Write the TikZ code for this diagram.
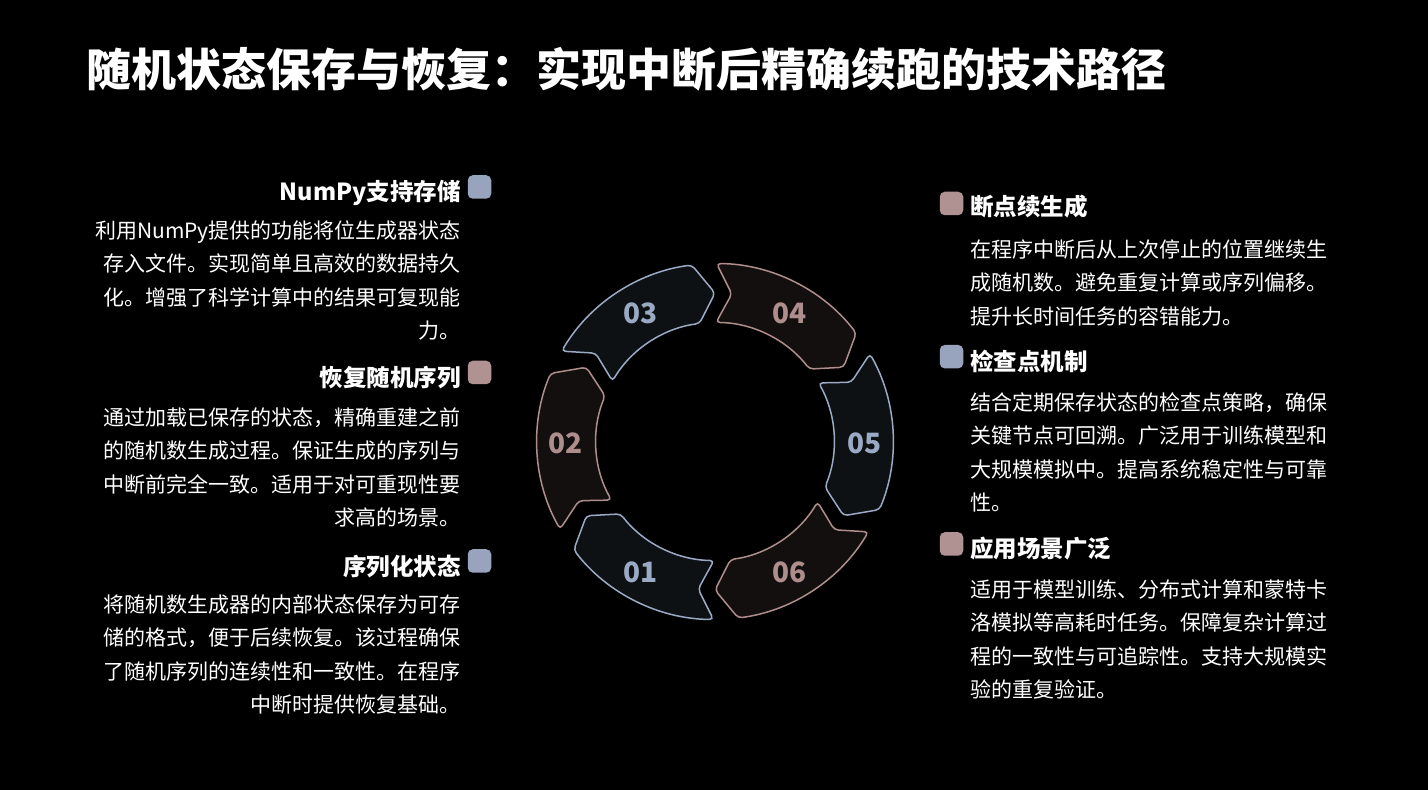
\documentclass[tikz,border=0pt]{standalone}
\usepackage{fontspec}
\setmainfont{Noto Sans CJK SC}
\usepackage{xcolor}
\usepackage{tikz}
\usetikzlibrary{positioning}
\definecolor{ringblue}{HTML}{9BAAC4}
\definecolor{ringpink}{HTML}{AE8E8C}
\definecolor{fillblue}{HTML}{0E1114}
\definecolor{fillpink}{HTML}{140F0F}
\definecolor{markblue}{HTML}{98A4BE}
\definecolor{markpink}{HTML}{B09292}

\tikzset{
  bluearc/.style={draw=ringblue, fill=fillblue, line width=1.5pt, rounded corners=4pt},
  pinkarc/.style={draw=ringpink, fill=fillpink, line width=1.5pt, rounded corners=4pt},
  numlbl/.style={font=\fontsize{28}{30}\selectfont\bfseries, inner sep=0pt},
  marker/.style={minimum size=23.5pt, inner sep=0pt, rounded corners=5pt},
  headtxt/.style={font=\fontsize{23.5}{26}\selectfont\bfseries, text=white, inner sep=0pt},
  bodyL/.style={font=\fontsize{21}{33.3}\selectfont, text=white, align=right, inner sep=0pt, anchor=north east},
  bodyR/.style={font=\fontsize{21}{33.3}\selectfont, text=white, align=left, inner sep=0pt, anchor=north west}
}

\begin{document}
\begin{tikzpicture}[x=1pt, y=1pt]
\fill[black] (0,0) rectangle (1428,790);
\useasboundingbox (0,0) rectangle (1428,790);

% title
\node[anchor=base west, inner sep=0pt, text=white, font=\fontsize{45}{50}\selectfont\bfseries] (title) at (86,703)
  {随机状态保存与恢复：实现中断后精确续跑的技术路径};

% ring of six arrows
\begin{scope}[shift={(715,348.5)}]
\foreach \ang/\lbl/\kind/\col in {240/01/bluearc/ringblue, 180/02/pinkarc/ringpink, 120/03/bluearc/ringblue,
                                   60/04/pinkarc/ringpink, 0/05/bluearc/ringblue, -60/06/pinkarc/ringpink}{
  \draw[\kind] (\ang+29.5:178) arc[start angle=\ang+29.5, end angle=\ang-22.5, radius=178pt]
    -- (\ang-30:148.5) -- (\ang-22.5:119)
    arc[start angle=\ang-22.5, end angle=\ang+29.5, radius=119pt]
    -- (\ang+23.5:148.5) -- cycle;
  \node[numlbl, text=\col] (seg\lbl) at ([yshift=-1.5pt]\ang:149.5) {\lbl};
}
\end{scope}

% left column
\node[headtxt, anchor=base east] (hL1) at (461,589.3) {NumPy支持存储};
\node[marker, fill=markblue] (mkL1) at (479.5,603) {};
\node[bodyL] (bL1) at (461,569.5) {利用NumPy提供的功能将位生成器状态\\存入文件。实现简单且高效的数据持久\\化。增强了科学计算中的结果可复现能\\力。};

\node[headtxt, anchor=base east] (hL2) at (461,403) {恢复随机序列};
\node[marker, fill=markpink] (mkL2) at (479.5,417.5) {};
\node[bodyL] (bL2) at (461,382.5) {通过加载已保存的状态，精确重建之前\\的随机数生成过程。保证生成的序列与\\中断前完全一致。适用于对可重现性要\\求高的场景。};

\node[headtxt, anchor=base east] (hL3) at (461,214.3) {序列化状态};
\node[marker, fill=markblue] (mkL3) at (479.5,229) {};
\node[bodyL] (bL3) at (461,195.5) {将随机数生成器的内部状态保存为可存\\储的格式，便于后续恢复。该过程确保\\了随机序列的连续性和一致性。在程序\\中断时提供恢复基础。};

% right column
\node[headtxt, anchor=base west] (hR1) at (970,574.3) {断点续生成};
\node[marker, fill=markpink] (mkR1) at (951.5,586.5) {};
\node[bodyR] (bR1) at (970,550.5) {在程序中断后从上次停止的位置继续生\\成随机数。避免重复计算或序列偏移。\\提升长时间任务的容错能力。};

\node[headtxt, anchor=base west] (hR2) at (970,419.3) {检查点机制};
\node[marker, fill=markblue] (mkR2) at (951.5,433.3) {};
\node[bodyR] (bR2) at (970,397.5) {结合定期保存状态的检查点策略，确保\\关键节点可回溯。广泛用于训练模型和\\大规模模拟中。提高系统稳定性与可靠\\性。};

\node[headtxt, anchor=base west] (hR3) at (970,232.7) {应用场景广泛};
\node[marker, fill=markpink] (mkR3) at (951.5,246) {};
\node[bodyR] (bR3) at (970,210.5) {适用于模型训练、分布式计算和蒙特卡\\洛模拟等高耗时任务。保障复杂计算过\\程的一致性与可追踪性。支持大规模实\\验的重复验证。};
\end{tikzpicture}
\end{document}
